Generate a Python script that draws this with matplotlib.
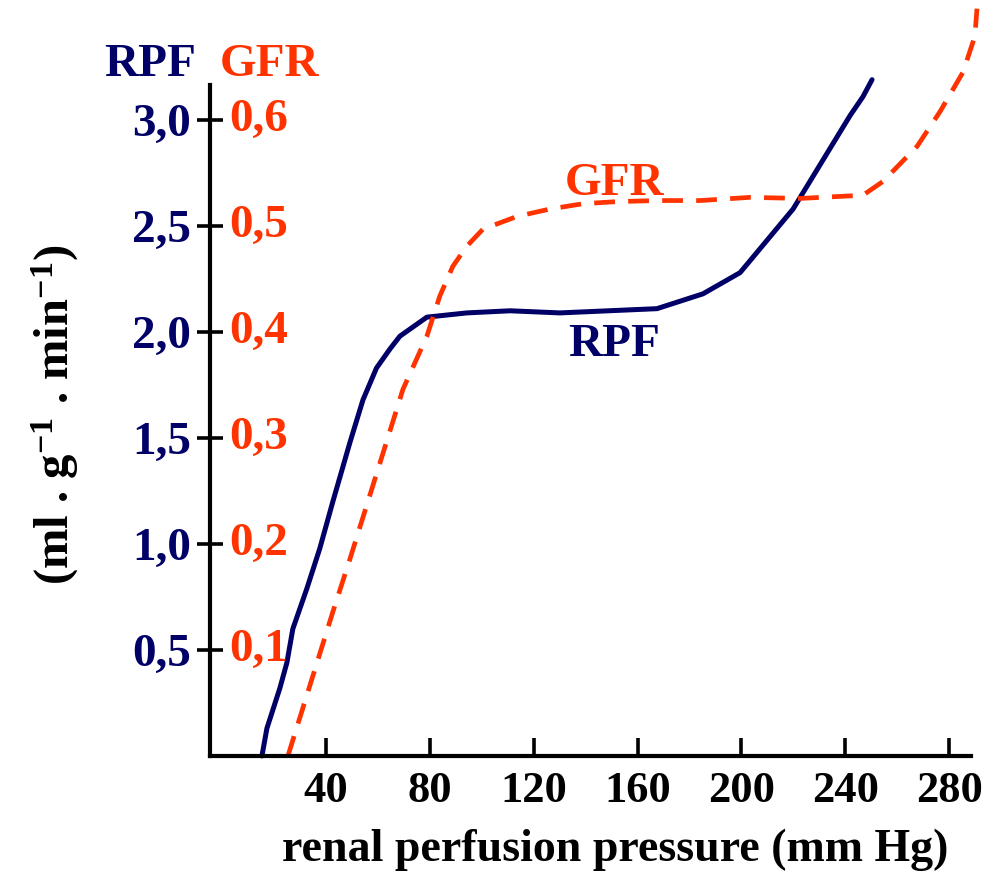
import matplotlib.pyplot as plt
import numpy as np

plt.rcParams['font.family'] = 'Liberation Serif'
plt.rcParams['font.weight'] = 'bold'
plt.rcParams['mathtext.fontset'] = 'custom'
plt.rcParams['mathtext.rm'] = 'Liberation Serif:bold'
plt.rcParams['mathtext.it'] = 'Liberation Serif:bold'
plt.rcParams['mathtext.bf'] = 'Liberation Serif:bold'

NAVY = '#000066'
RED = '#ff3300'

# renal plasma flow (ml/g/min) vs perfusion pressure (mm Hg)
rpf_p = [15.4, 17.3, 22.3, 25.0, 27.3, 32.7, 37.7, 42.7, 49.3, 54.3, 59.5, 64.7, 68.5,
         78.9, 94.3, 110.9, 130.1, 167.5, 185.2, 199.5, 219.9, 241.8, 246.8, 250.3]
rpf = [0.0, 0.13, 0.32, 0.44, 0.60, 0.79, 0.98, 1.20, 1.48, 1.68, 1.83, 1.92, 1.98,
       2.07, 2.09, 2.10, 2.09, 2.11, 2.18, 2.28, 2.58, 3.02, 3.11, 3.19]

# glomerular filtration rate (ml/g/min)
gfr_p = [25.4, 35.0, 42.7, 49.3, 69.7, 78.9, 83.9, 88.9, 94.3, 100.5, 113.6, 126.3,
         139.0, 152.1, 167.5, 184.1, 203.3, 222.6, 246.8, 254.5, 267.6, 276.5,
         285.3, 289.9, 290.7]
gfr = [0.0, 0.0755, 0.136, 0.186, 0.346, 0.396, 0.434, 0.462, 0.481, 0.497, 0.509,
       0.516, 0.521, 0.523, 0.524, 0.524, 0.527, 0.526, 0.529, 0.542, 0.575, 0.608,
       0.645, 0.679, 0.705]

x_ticks = [40, 80, 120, 160, 200, 240, 280]
rpf_ticks = [0.5, 1.0, 1.5, 2.0, 2.5, 3.0]
rpf_labels = ['0,5', '1,0', '1,5', '2,0', '2,5', '3,0']
gfr_ticks = [0.1, 0.2, 0.3, 0.4, 0.5, 0.6]
gfr_labels = ['0,1', '0,2', '0,3', '0,4', '0,5', '0,6']
ratio = 5.0  # RPF scale / GFR scale

fig = plt.figure(figsize=(9.87, 8.83), dpi=100)
ax = fig.add_axes([210 / 987, 1 - 756 / 883, 761 / 987, 671 / 883])
ax.set_xlim(-4.6, 288.4)
ax.set_ylim(0, 3.165)

ax.plot(rpf_p, rpf, color=NAVY, lw=3.6, clip_on=False, solid_capstyle='round')
ax.plot(gfr_p, np.array(gfr) * ratio, color=RED, lw=3.4, clip_on=False,
        dashes=(4.4, 2.8))

for s in ['top', 'right']:
    ax.spines[s].set_visible(False)
for s in ['left', 'bottom']:
    ax.spines[s].set_linewidth(3)

ax.set_xticks(x_ticks)
ax.set_xticklabels([str(t) for t in x_ticks], fontsize=32)
ax.tick_params(axis='x', direction='in', length=13, width=2.6, pad=11)

ax.set_yticks(rpf_ticks)
ax.set_yticklabels(rpf_labels, fontsize=34, color=NAVY)
ax.tick_params(axis='y', direction='inout', length=19, width=2.6, pad=4)

for t, lab in zip(gfr_ticks, gfr_labels):
    ax.annotate(lab, xy=(0, t * ratio), xycoords=('axes fraction', 'data'),
                xytext=(14, 0), textcoords='offset points',
                ha='left', va='center', fontsize=34, color=RED)

ax.text(-27.7, 3.26, 'RPF', color=NAVY, fontsize=34, ha='center', va='center', clip_on=False)
ax.text(18.5, 3.26, 'GFR', color=RED, fontsize=34, ha='center', va='center', clip_on=False)
ax.text(151, 2.70, 'GFR', color=RED, fontsize=34, ha='center', va='center')
ax.text(151, 1.94, 'RPF', color=NAVY, fontsize=34, ha='center', va='center')

fig.text(55 / 987, 1 - 415 / 883, r'(ml . g$^{-1}$ . min$^{-1}$)', rotation=90,
         fontsize=35, ha='center', va='center')
fig.text(615 / 987, 1 - 850 / 883, 'renal perfusion pressure (mm Hg)',
         fontsize=33, ha='center', va='center')

fig.savefig('out.png', dpi=100)
